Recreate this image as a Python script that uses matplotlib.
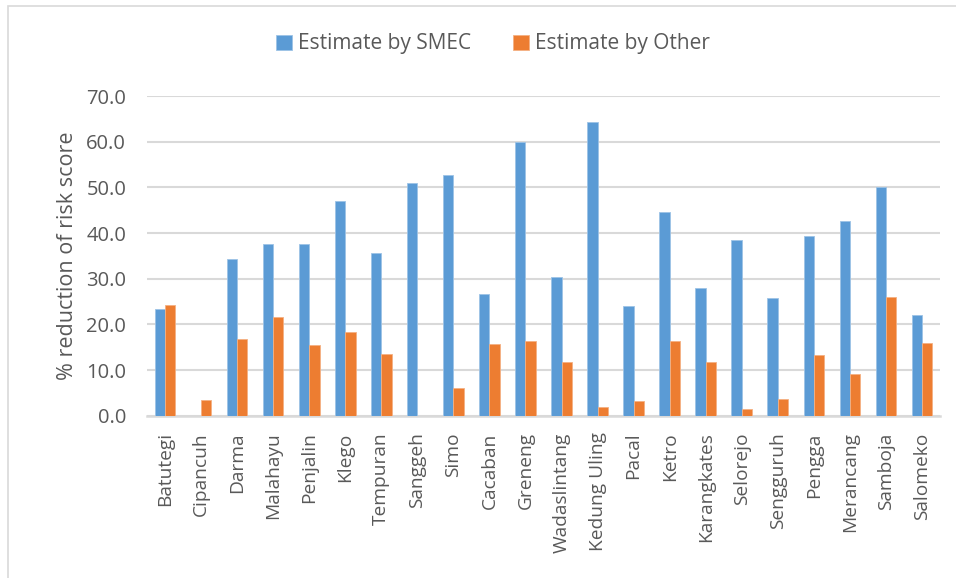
import numpy as np
import matplotlib.pyplot as plt
from matplotlib.patches import Rectangle

dams = ["Batutegi", "Cipancuh", "Darma", "Malahayu", "Penjalin", "Klego",
        "Tempuran", "Sanggeh", "Simo", "Cacaban", "Greneng", "Wadaslintang",
        "Kedung Uling", "Pacal", "Ketro", "Karangkates", "Selorejo",
        "Sengguruh", "Pengga", "Merancang", "Samboja", "Salomeko"]

smec = [23.4, 0.0, 34.4, 37.5, 37.7, 47.0, 35.6, 51.0, 52.7, 26.6, 60.0,
        30.3, 64.3, 24.0, 44.6, 27.9, 38.5, 25.8, 39.4, 42.6, 50.0, 22.1]
other = [24.3, 3.4, 16.9, 21.6, 15.4, 18.4, 13.5, 0.0, 6.1, 15.7, 16.4,
         11.8, 1.9, 3.2, 16.4, 11.7, 1.4, 3.6, 13.3, 9.2, 26.0, 15.9]

BLUE = "#5B9BD5"
ORANGE = "#ED7D31"
GRID = "#D9D9D9"
TEXT = "#595959"
FONT = "Open Sans"

fig = plt.figure(figsize=(9.56, 5.78), dpi=100)

# light chart-area frame
fig.patches.append(Rectangle((8 / 956, -0.1), 1.2, 1 - 6 / 578 + 0.1,
                             transform=fig.transFigure, fill=False,
                             edgecolor=GRID, linewidth=1.2))

ax = fig.add_axes([147 / 956, 1 - 415.7 / 578, 793 / 956, 319.7 / 578])

x = np.arange(len(dams))
w = 0.286
ax.bar(x - w / 2, smec, w, color=BLUE, edgecolor="#9DC3E6", linewidth=0.6,
       label="Estimate by SMEC", zorder=3)
ax.bar(x + w / 2, other, w, color=ORANGE, edgecolor="#F4B183", linewidth=0.6,
       label="Estimate by Other", zorder=3)

ax.set_xlim(-0.5, len(dams) - 0.5)
ax.set_ylim(0, 70)
ax.set_yticks(np.arange(0, 71, 10))
ax.set_yticklabels([f"{v:.1f}" for v in np.arange(0, 71, 10)],
                   fontfamily=FONT, fontsize=14.5, color=TEXT)
ax.set_xticks(x)
ax.set_xticklabels(dams, rotation=90, fontfamily=FONT, fontsize=13.8,
                   color=TEXT, va="top")
ax.tick_params(axis="both", length=0)
ax.tick_params(axis="x", pad=12)
ax.tick_params(axis="y", pad=15)

ax.grid(axis="y", color=GRID, linewidth=1.5, zorder=0)
for s in ["top", "right", "left"]:
    ax.spines[s].set_visible(False)
ax.spines["bottom"].set_color(GRID)
ax.spines["bottom"].set_linewidth(1.8)

ax.set_ylabel("% reduction of risk score", fontfamily=FONT, fontsize=15.5,
              color=TEXT, labelpad=6)

leg = fig.legend(loc="center", bbox_to_anchor=(493 / 956, 1 - 44 / 578),
                 ncol=2, frameon=False, handlelength=0.75, handleheight=0.75,
                 handletextpad=0.3, columnspacing=2.0,
                 prop={"family": FONT, "size": 15})
for t in leg.get_texts():
    t.set_color(TEXT)

fig.savefig("out.png", dpi=100)
